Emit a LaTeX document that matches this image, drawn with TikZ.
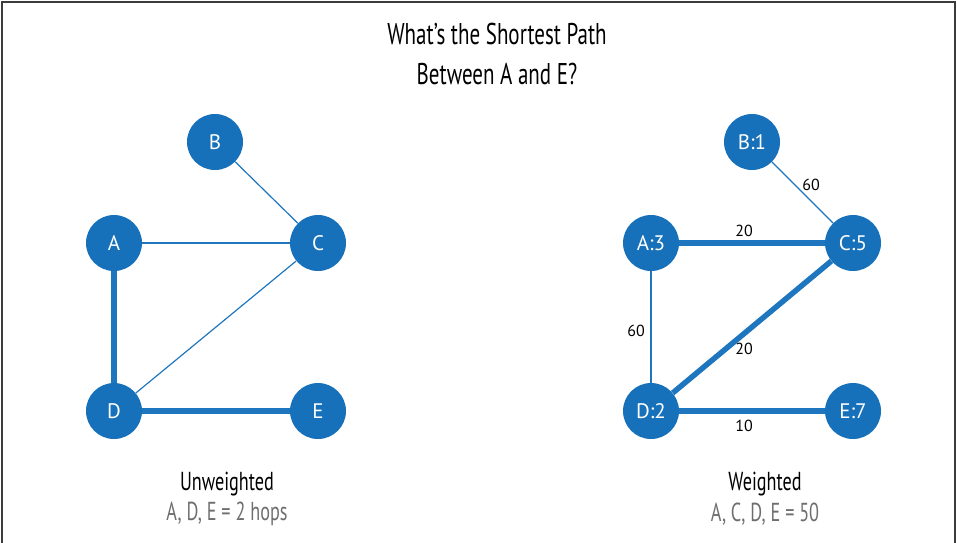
\documentclass[tikz,border=0pt]{standalone}
\usepackage{fontspec}
\setmainfont{PT Sans}
\newfontfamily\condfont[FakeStretch=0.70]{PT Sans}
\definecolor{nodeblue}{RGB}{22,112,186}
\definecolor{edgeblue}{RGB}{30,118,190}
\definecolor{capgray}{RGB}{110,110,110}
\definecolor{framegray}{RGB}{60,60,60}
\begin{document}
\begin{tikzpicture}[x=1pt,y=-1pt,
  vtx/.style={circle,fill=nodeblue,minimum size=56pt,inner sep=0pt,text=white,font=\fontsize{21}{24}\selectfont},
  thin edge/.style={draw=edgeblue,line width=1.2pt},
  thick edge/.style={draw=edgeblue,line width=5.5pt},
  wlabel/.style={font=\fontsize{16}{18}\selectfont,text=black,inner sep=1pt},
  title/.style={font=\condfont\fontsize{30}{34}\selectfont,align=center},
  caphead/.style={font=\condfont\fontsize{26}{30}\selectfont},
  capsub/.style={font=\condfont\fontsize{26}{30}\selectfont,text=capgray}]
\useasboundingbox (0,0) rectangle (957,542);
\draw[framegray,line width=1.6pt] (2,560) -- (2,2) -- (955,2) -- (955,560);
\node[title] (t1) at (497,34) {What’s the Shortest Path};
\node[title] (t2) at (497,74) {Between A and E?};
% left graph
\node[vtx] (B) at (215,142) {B};
\node[vtx] (A) at (114,243) {A};
\node[vtx] (C) at (318,243) {C};
\node[vtx] (D) at (114,411) {D};
\node[vtx] (E) at (318,411) {E};
\path[thin edge] (B) -- (C);
\path[thin edge] (A) -- (C);
\path[thin edge] (C) -- (D);
\path[thick edge] (A) -- (D);
\path[thick edge] (D) -- (E);
\node[caphead] (u1) at (227,484) {Unweighted};
\node[capsub] (u2) at (227,514) {A, D, E = 2 hops};
% right graph
\node[vtx] (B2) at (752,142) {B:1};
\node[vtx] (A2) at (651,243) {A:3};
\node[vtx] (C2) at (853,243) {C:5};
\node[vtx] (D2) at (651,411) {D:2};
\node[vtx] (E2) at (853,411) {E:7};
\path[thin edge] (B2) -- (C2);
\path[thick edge] (A2) -- (C2);
\path[thin edge] (A2) -- (D2);
\path[thick edge] (C2) -- (D2);
\path[thick edge] (D2) -- (E2);
\node[wlabel] (l1) at (811,185) {60};
\node[wlabel] (l2) at (744,231) {20};
\node[wlabel] (l3) at (636,331) {60};
\node[wlabel] (l4) at (744,349) {20};
\node[wlabel] (l5) at (744,426) {10};
\node[caphead] (w1) at (765,484) {Weighted};
\node[capsub] (w2) at (765,514) {A, C, D, E = 50};
\end{tikzpicture}
\end{document}
